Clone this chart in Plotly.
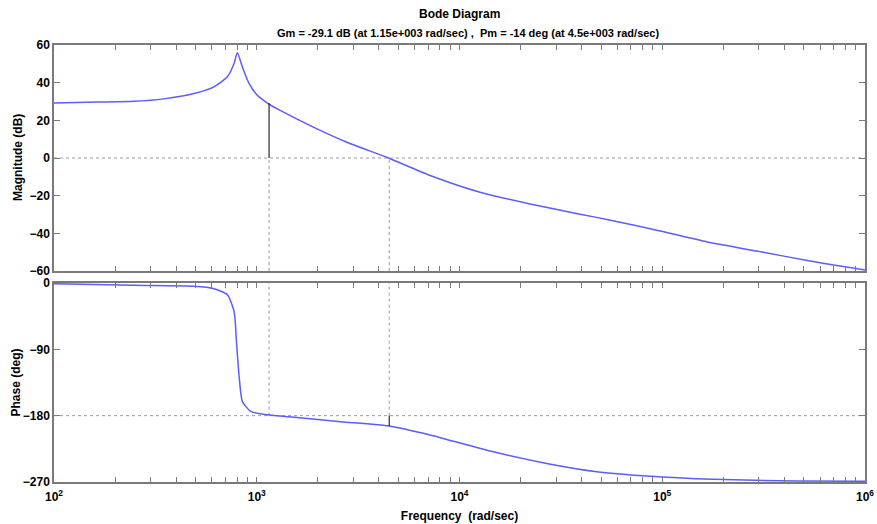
import plotly.graph_objects as go

# ---- data ----
mag_freq = [100, 146, 248, 349, 490, 615, 716, 773, 802, 849, 916, 1007, 1127,
            1320, 1901, 2780, 4457, 7161, 12620, 22280, 39260, 55500, 97500,
            172200, 303400, 535800, 1000000]
mag_db = [29.2, 29.6, 30.1, 31.4, 34.2, 37.8, 43.1, 50.2, 55.9, 48.4, 39.6, 33.3, 29.2,
          25.0, 16.4, 8.4, 0.0, -9.3, -18.2, -24.4, -29.8, -33.0, -38.7,
          -44.9, -49.7, -54.7, -59.5]

ph_freq = [100, 248, 490, 615, 716, 773, 796, 820, 849, 933, 1127, 1528, 2594,
           4500, 6637, 8650, 14690, 26920, 47530, 83750, 178600, 460300, 1000000]
ph_deg = [-1.0, -3.2, -4.5, -7.7, -15.9, -38.5, -83.7, -129.0, -160.6, -174.2, -178.7,
          -182.3, -188.2, -194.0, -204.0, -212.2, -229.0, -244.8, -256.1, -261.9,
          -266.4, -268.7, -269.0]

gm_db = -29.1
gm_freq = 1150
pm_deg = -14
pm_freq = 4500

decades = [100, 1000, 10000, 100000, 1000000]
decade_labels = ["10<sup>2</sup>", "10<sup>3</sup>", "10<sup>4</sup>", "10<sup>5</sup>", "10<sup>6</sup>"]
mag_ticks = [-60, -40, -20, 0, 20, 40, 60]
ph_ticks = [-270, -180, -90, 0]

# log-axis tick positions (1..9 per decade), labels only at decades
x_tickvals = []
x_ticktext = []
for i, d in enumerate(decades):
    mults = range(1, 10) if i < len(decades) - 1 else [1]
    for m in mults:
        x_tickvals.append(d * m)
        x_ticktext.append("<b>" + decade_labels[i] + "</b>" if m == 1 else "")

LINE = "#5c5cff"
AX = "#7a7a7a"
FONT = "Liberation Sans, Arial, sans-serif"
TF = dict(family=FONT, size=12, color="black", weight="bold")

fig = go.Figure()
fig.add_trace(go.Scatter(x=mag_freq, y=mag_db, mode="lines",
                         line=dict(color=LINE, width=1.5, shape="spline", smoothing=0.6),
                         xaxis="x", yaxis="y", showlegend=False))
fig.add_trace(go.Scatter(x=ph_freq, y=ph_deg, mode="lines",
                         line=dict(color=LINE, width=1.5, shape="spline", smoothing=0.6),
                         xaxis="x2", yaxis="y2", showlegend=False))

dot = dict(color="#9a9a9a", width=1, dash="dot")
shapes = [
    dict(type="line", xref="x domain", yref="y", x0=0, x1=1, y0=0, y1=0, line=dot, layer="below"),
    dict(type="line", xref="x", yref="y", x0=gm_freq, x1=gm_freq, y0=-60, y1=0, line=dot, layer="below"),
    dict(type="line", xref="x", yref="y", x0=pm_freq, x1=pm_freq, y0=-60, y1=0, line=dot, layer="below"),
    dict(type="line", xref="x", yref="y", x0=gm_freq, x1=gm_freq, y0=0, y1=-gm_db,
         line=dict(color="black", width=1)),
    dict(type="line", xref="x2 domain", yref="y2", x0=0, x1=1, y0=-180, y1=-180, line=dot, layer="below"),
    dict(type="line", xref="x2", yref="y2", x0=gm_freq, x1=gm_freq, y0=-180, y1=0, line=dot, layer="below"),
    dict(type="line", xref="x2", yref="y2", x0=pm_freq, x1=pm_freq, y0=-180, y1=0, line=dot, layer="below"),
    dict(type="line", xref="x2", yref="y2", x0=pm_freq, x1=pm_freq, y0=-180, y1=-180 + pm_deg,
         line=dict(color="black", width=1)),
]

xcommon = dict(type="log", range=[2, 6], showgrid=False, zeroline=False, automargin=False,
               showline=True, linecolor=AX, linewidth=1.5, mirror="ticks",
               ticks="inside", ticklen=5, tickcolor=AX, tickwidth=1,
               tickvals=x_tickvals, ticktext=x_ticktext, tickfont=TF)

ycommon = dict(showgrid=False, zeroline=False, showline=True, linecolor=AX, linewidth=1.5,
               mirror="ticks", ticks="inside", ticklen=6, tickcolor=AX, automargin=False,
               tickfont=TF)

fig.update_layout(
    width=877, height=524,
    margin=dict(l=54, r=12, t=45, b=42),
    paper_bgcolor="white", plot_bgcolor="white",
    font=dict(family=FONT, size=12, color="black"),
    shapes=shapes,
    xaxis=dict(**xcommon, domain=[0, 1], anchor="y", showticklabels=False),
    yaxis=dict(**ycommon, domain=[0.4828, 1], range=[-60, 60], tickvals=mag_ticks),
    xaxis2=dict(**xcommon, domain=[0, 1], anchor="y2", ticklabelstandoff=3,
                title=dict(text="<b>Frequency  (rad/sec)</b>", font=dict(family=FONT, size=12), standoff=8)),
    yaxis2=dict(**ycommon, domain=[0, 0.4554], range=[-270, 0], tickvals=ph_ticks),
    annotations=[
        dict(text="<b>Bode Diagram</b>", xref="paper", yref="paper", x=0.5, y=1,
             xanchor="center", yanchor="bottom", yshift=22, showarrow=False,
             font=dict(family=FONT, size=12, color="black")),
        dict(text=f"<b>Gm = {gm_db} dB (at 1.15e+003 rad/sec) ,  Pm = {pm_deg} deg (at 4.5e+003 rad/sec)</b>",
             xref="paper", yref="paper", x=0.5, y=1, xanchor="center", yanchor="bottom",
             yshift=4, xshift=8, showarrow=False, font=dict(family=FONT, size=11, color="black")),
        dict(text="<b>Magnitude (dB)</b>", xref="paper", yref="paper", x=0, y=0.7414,
             xanchor="center", yanchor="middle", xshift=-36, textangle=-90, showarrow=False,
             font=dict(family=FONT, size=12, color="black")),
        dict(text="<b>Phase (deg)</b>", xref="paper", yref="paper", x=0, y=0.2277,
             xanchor="center", yanchor="middle", xshift=-38, textangle=-90, showarrow=False,
             font=dict(family=FONT, size=12, color="black")),
    ],
)

fig.write_html("out.html")
